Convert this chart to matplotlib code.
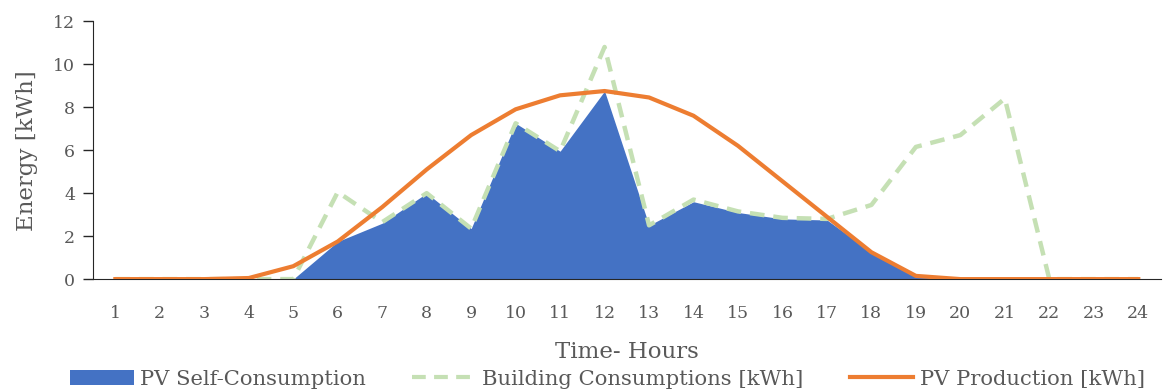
from matplotlib import pyplot as plt
from matplotlib.patches import Patch
from matplotlib.lines import Line2D

# horas do dia
hours = list(range(1, 25))

# valores [kWh]
pv_production = [0, 0, 0, 0.05, 0.6, 1.75, 3.35, 5.1, 6.7, 7.9, 8.55, 8.75,
                 8.45, 7.6, 6.2, 4.55, 2.9, 1.25, 0.15, 0, 0, 0, 0, 0]
building = [0, 0, 0, 0, 0, 4.05, 2.65, 4.0, 2.35, 7.25, 5.95, 10.8,
            2.5, 3.7, 3.15, 2.85, 2.8, 3.45, 6.15, 6.7, 8.4, 0, 0, 0]
self_consumption = [0, 0, 0, 0, 0, 1.75, 2.6, 4.0, 2.35, 7.25, 5.95, 8.75,
                    2.5, 3.6, 3.1, 2.8, 2.75, 1.25, 0.15, 0, 0, 0, 0, 0]

plt.rcParams['font.family'] = ['DejaVu Serif']
grey = '#595959'

fig = plt.figure(figsize=(11.64, 3.92), dpi=100)
ax = fig.add_axes([0.080, 0.288, 0.917, 0.658])

ax.fill_between(hours, self_consumption, 0, color='#4472C4', linewidth=0, zorder=1)
ax.plot(hours, building, color='#C5E0B4', linewidth=3.2, dashes=(3.3, 2), zorder=2)
ax.plot(hours, pv_production, color='#ED7D31', linewidth=3, zorder=3)

ax.set_xlim(0.5, 24.5)
ax.set_ylim(0, 12)
ax.set_xticks(hours)
ax.set_yticks(range(0, 13, 2))
ax.tick_params(axis='x', length=0, pad=19, labelsize=12.5, labelcolor=grey)
ax.tick_params(axis='y', length=7, width=1, color='#262626', labelsize=12.5, labelcolor=grey, pad=6)

for s in ['top', 'right']:
    ax.spines[s].set_visible(False)
ax.spines['left'].set_color('#262626')
ax.spines['bottom'].set_color('#262626')

ax.set_ylabel('Energy [kWh]', fontsize=16.5, color=grey, labelpad=11)
ax.set_xlabel('Time- Hours', fontsize=16.5, color=grey, labelpad=13)

handles = [Patch(facecolor='#4472C4', edgecolor='none'),
           Line2D([0], [0], color='#C5E0B4', linewidth=3, dashes=(3.3, 2)),
           Line2D([0], [0], color='#ED7D31', linewidth=3)]
labels = ['PV Self-Consumption', 'Building Consumptions [kWh]', 'PV Production [kWh]']
leg = fig.legend(handles, labels, loc='lower center', bbox_to_anchor=(0.522, -0.04), ncol=3,
                 frameon=False, fontsize=15.2, handlelength=3.0, handletextpad=0.3,
                 columnspacing=2.2, labelcolor=grey)

plt.savefig('out.png', dpi=100)
